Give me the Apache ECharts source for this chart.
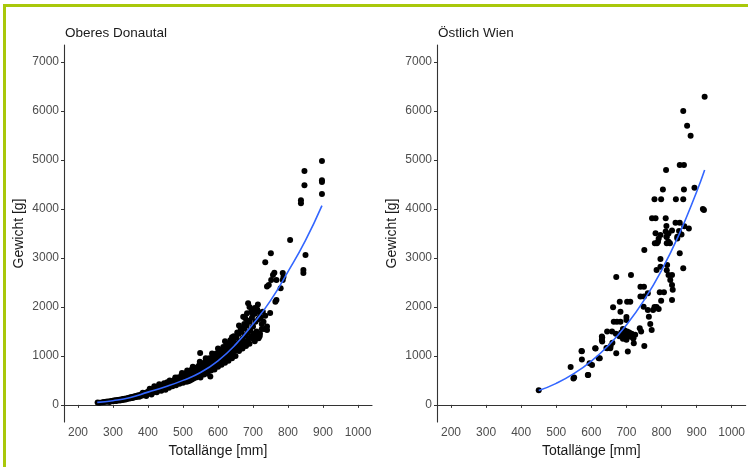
<!DOCTYPE html>
<html>
<head>
<meta charset="utf-8">
<script src="https://cdn.jsdelivr.net/npm/echarts@6/dist/echarts.min.js"></script>
<style>
  html, body { margin: 0; padding: 0; background: #ffffff; }
  #frame { position: absolute; left: 3px; top: 4px; width: 745px; height: 463px;
           border-top: 3px solid #a9c80a; border-left: 3px solid #a9c80a; box-sizing: border-box; }
  #chart { position: absolute; left: 0; top: 0; width: 748px; height: 467px; }
</style>
</head>
<body>
<div id="chart"></div>
<div id="frame"></div>
<script>
// Panel titles and axis texts
const panelTitles = ['Oberes Donautal', 'Östlich Wien'];
const xAxisTitle = 'Totallänge [mm]';
const yAxisTitle = 'Gewicht [g]';
const lengthTicks = [200, 300, 400, 500, 600, 700, 800, 900, 1000];
const weightTicks = [0, 1000, 2000, 3000, 4000, 5000, 6000, 7000];

// Oberes Donautal: [Totallänge mm, Gewicht g]
const donauPoints = [
  [256,50],[262,45],[270,55],[275,60],[280,62],[285,70],[290,58],[292,75],[296,80],[300,72],
  [302,88],[305,82],[308,95],[310,78],[313,100],[316,92],[318,105],[320,88],[323,110],[326,98],
  [328,118],[330,105],[333,125],[336,112],[338,130],[340,120],[343,140],[346,128],[348,150],[350,135],
  [353,160],[355,142],[358,150],[360,170],[362,155],[365,180],[367,160],[370,175],[372,195],[375,168],
  [377,190],[380,210],[382,185],[385,200],[387,225],[390,205],[392,240],[395,215],[397,260],[400,230],
  [402,280],[404,250],[407,300],[410,265],[412,240],[415,290],[417,320],[420,275],[422,300],[425,340],
  [427,285],[430,320],[432,360],[435,310],[437,345],[440,380],[442,330],[445,360],[447,400],[450,350],
  [452,390],[455,420],[457,370],[460,400],[462,440],[465,385],[467,430],[470,460],[472,410],[475,450],
  [477,490],[480,430],[482,470],[485,520],[487,450],[490,500],[492,550],[495,470],[497,530],[500,580],
  [502,500],[505,560],[507,610],[510,530],[512,590],[515,480],[517,640],[520,560],[522,600],[525,520],
  [527,660],[530,590],[532,630],[535,700],[537,560],[540,650],[542,720],[545,600],[547,680],[549,1060],
  [550,620],[552,760],[555,700],[557,640],[560,780],[562,720],[565,660],[567,820],[570,750],[572,690],
  [575,860],[578,580],[580,800],[582,740],[585,900],[587,830],[590,770],[592,950],[595,870],[597,800],
  [600,1000],[602,920],[605,850],[607,1050],[610,960],[612,880],[615,1100],[617,1000],[620,930],[622,1150],
  [625,1050],[627,980],[630,1200],[632,1100],[635,1020],[637,1260],[640,1150],[642,1070],[645,1320],[647,1200],
  [650,1110],[652,1380],[655,1250],[657,1160],[660,1450],[662,1300],[665,1210],[667,1500],[670,1350],[672,1250],
  [675,1560],[677,1420],[680,1300],[682,1620],[685,1470],[687,1350],[690,1700],[692,1520],[695,1400],[697,1780],
  [700,1600],[702,1450],[705,1860],[707,1700],[710,1500],[712,1950],[714,2050],[716,1360],[719,1400],[722,1780],
  [725,1650],[728,1900],[732,1550],[735,1820],[740,1600],[686,2075],[690,2000],[697,1940],[700,1850],[683,1870],
  [678,1770],[720,1800],[730,1700],[740,1530],[735,2912],[751,3095],[806,3367],[850,3061],[844,2755],[844,2694],
  [761,2700],[767,2551],[785,2694],[785,2551],[740,2415],[767,2143],[749,1877],[745,2449],[752,2550],[757,2650],
  [779,2380],[764,2108],[787,2610],[837,4180],[837,4120],[847,4775],[847,4483],[897,4980],[897,4590],[897,4550],
  [897,4306],
  [385,245],[395,180],[405,330],[410,210],[418,350],[425,260],[432,400],[438,290],[445,420],[450,310],
  [455,460],[460,350],[465,480],[470,380],[475,510],[480,400],[485,560],[490,430],[495,600],[500,450],
  [505,640],[510,470],[515,680],[520,500],[525,720],[530,540],[535,760],[540,580],[545,800],[550,560],
  [555,850],[560,620],[565,900],[570,640],[575,950],[580,700],[585,1000],[590,720],[595,1050],[600,780],
  [605,1120],[610,820],[615,1180],[620,860],[625,1250],[630,900],[635,1320],[640,950],[645,1400],[650,1000],
  [655,1480],[660,1100],[665,1560],[670,1150],[675,1650],[680,1200],[685,1720],[690,1250],[695,1900],[700,1350],
  [705,1980],[710,1400],[715,1750],[720,1450],[725,1550],[705,1300],[715,1900],[660,1620],[672,1800],[665,1150],
  [640,1380],[620,1300],[600,1150],[583,1050],[565,950],[548,880],[528,780],[512,700],[497,650],[478,560],
  [462,500],[446,440],[432,420],[418,380]
];

// Östlich Wien: [Totallänge mm, Gewicht g]
const wienPoints = [
  [450,300],[541,775],[549,540],[551,560],[573,1095],[573,925],[590,612],[602,816],[611,1155],[621,953],
  [630,1394],[630,1327],[645,1157],[654,1157],[662,1994],[671,2612],[681,2108],[702,2108],[711,2108],[683,1904],
  [664,1700],[683,1700],[645,1496],[659,1496],[670,1450],[680,1400],[690,1350],[700,1330],[702,1500],[705,1400],
  [715,1450],[720,1360],[671,1054],[704,1088],[721,1259],[713,2653],[742,1496],[751,1204],[740,2414],[750,2414],
  [740,2211],[750,2211],[749,2006],[751,3163],[761,2280],[761,1938],[764,1800],[768,1650],[772,1530],[776,1938],
  [780,2000],[786,2000],[792,1960],[786,2755],[787,3300],[792,3400],[797,3469],[797,2980],[797,2823],[795,2300],
  [807,2300],[799,2129],[816,2857],[815,2750],[820,2650],[825,2550],[830,2653],[830,2143],[830,2450],[832,2350],
  [814,3435],[824,3300],[845,3435],[852,3095],[862,2789],[923,6292],[862,6000],[873,5700],[883,5496],[813,4796],
  [852,4898],[864,4898],[804,4400],[780,4198],[799,4198],[841,4198],[862,4198],[864,4400],[894,4435],[921,3980],
  [918,4000],[773,3810],[783,3810],[812,3810],[840,3720],[852,3720],[865,3650],[878,3600],[783,3503],[812,3540],
  [815,3430],[814,3653],[820,3500],[830,3560],[845,3400],[850,3550],[857,3480],[790,3333],[781,3300],[820,3333],
  [815,3300],[700,1796],[700,1735],[673,1700],[691,1496],[695,1520],[698,1460],[709,1394],[719,1361],[655,1200],
  [660,1270],[643,1161],[631,1374],[631,1292],[572,1102],[595,851],[591,612],[612,1149],[624,953],[738,1565],
  [685,1480],[693,1420],[708,1480],[712,1420],[725,1430],[690,1550]
];

// Fitted length-weight curves
const donauFitLength = [255, 300, 350, 400, 450, 500, 550, 600, 650, 700, 750, 800, 850, 897];
const donauFitWeight = [50, 85, 150, 260, 370, 500, 660, 900, 1230, 1650, 2130, 2720, 3360, 4070];
const wienFitLength = [450, 500, 550, 600, 650, 700, 750, 800, 850, 900, 923];
const wienFitWeight = [291, 439, 637, 894, 1222, 1631, 2134, 2745, 3478, 4347, 4796];

const FONT = '"Liberation Sans", Arial, sans-serif';
const chart = echarts.init(document.getElementById('chart'), null, { renderer: 'canvas' });

function zip(a, b) { return a.map((v, i) => [v, b[i]]); }
const plain = v => String(v);

function xAxisFor(gridIndex) {
  return {
    type: 'value', gridIndex, min: 160, max: 1040,
    name: xAxisTitle, nameLocation: 'middle', nameGap: 19,
    nameTextStyle: { color: '#1a1a1a', fontSize: 14, fontFamily: FONT },
    axisLine: { show: true, lineStyle: { color: '#333333', width: 1.1 } },
    axisTick: { show: true, length: 3, lineStyle: { color: '#333333' }, customValues: lengthTicks },
    axisLabel: { color: '#4d4d4d', fontSize: 12, fontFamily: FONT, margin: 5, customValues: lengthTicks, formatter: plain },
    splitLine: { show: false }
  };
}
function yAxisFor(gridIndex) {
  return {
    type: 'value', gridIndex, min: -350, max: 7350,
    name: yAxisTitle, nameLocation: 'middle', nameGap: 38, nameRotate: 90,
    nameTextStyle: { color: '#1a1a1a', fontSize: 14, fontFamily: FONT },
    axisLine: { show: true, lineStyle: { color: '#333333', width: 1.1 } },
    axisTick: { show: true, length: 3, lineStyle: { color: '#333333' }, customValues: weightTicks },
    axisLabel: { color: '#4d4d4d', fontSize: 12, fontFamily: FONT, margin: 5, customValues: weightTicks, formatter: plain },
    splitLine: { show: false }
  };
}

chart.setOption({
  animation: false,
  backgroundColor: '#ffffff',
  title: [
    { text: panelTitles[0], left: 65, top: 26, padding: 0, textStyle: { color: '#1a1a1a', fontSize: 13.5, fontWeight: 'normal', fontFamily: FONT } },
    { text: panelTitles[1], left: 438, top: 26, padding: 0, textStyle: { color: '#1a1a1a', fontSize: 13.5, fontWeight: 'normal', fontFamily: FONT } }
  ],
  grid: [
    { left: 64, right: 376, top: 45, bottom: 45 },
    { left: 437, right: 2, top: 45, bottom: 45 }
  ],
  xAxis: [xAxisFor(0), xAxisFor(1)],
  yAxis: [yAxisFor(0), yAxisFor(1)],
  series: [
    { type: 'scatter', xAxisIndex: 0, yAxisIndex: 0, data: donauPoints, symbolSize: 6,
      itemStyle: { color: '#000000', opacity: 1 } },
    { type: 'line', xAxisIndex: 0, yAxisIndex: 0, data: zip(donauFitLength, donauFitWeight), smooth: true,
      showSymbol: false, lineStyle: { color: '#3366ff', width: 1.6 } },
    { type: 'scatter', xAxisIndex: 1, yAxisIndex: 1, data: wienPoints, symbolSize: 6,
      itemStyle: { color: '#000000', opacity: 1 } },
    { type: 'line', xAxisIndex: 1, yAxisIndex: 1, data: zip(wienFitLength, wienFitWeight), smooth: true,
      showSymbol: false, lineStyle: { color: '#3366ff', width: 1.6 } }
  ]
});
</script>
</body>
</html>
